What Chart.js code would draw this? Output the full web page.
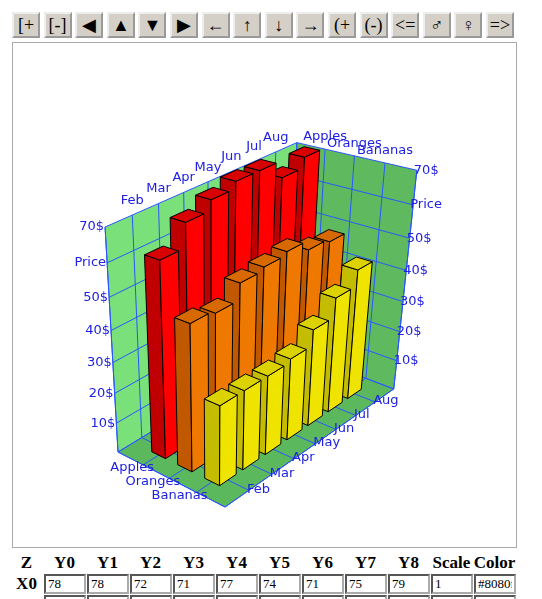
<!DOCTYPE html>
<html><head><meta charset="utf-8">
<script src="https://cdn.jsdelivr.net/npm/chart.js@4"></script>
<style>
body{margin:0;background:#fff;font-family:"Liberation Serif",serif;}
#bar{position:absolute;left:12px;top:12px;height:26px;}
#bar button{position:absolute;top:0;width:28px;height:26px;padding:0;background:#d4d0c8;border:2px outset #eee;font:18px "Liberation Serif",serif;color:#000;}
#frame{position:absolute;left:12px;top:42px;width:503px;height:504px;border:1px solid #aaa;}
#wrap{position:absolute;left:0;top:0;width:503px;height:504px;}
table{position:absolute;left:10px;top:552px;border-collapse:collapse;font:bold 17px "Liberation Serif",serif;}
td,th{padding:0;text-align:center;height:21px;}
th.z{width:33px;}
td input{box-sizing:border-box;width:42px;height:20px;margin:0 0 0 1px;border:2px inset #aaa;font:13px "Liberation Serif",serif;padding:0 2px;}
</style></head><body>
<div id="bar"></div>
<div id="frame"><div id="wrap"><canvas id="c"></canvas></div></div>
<table id="tb"></table>
<script>
const months=["Feb","Mar","Apr","May","Jun","Jul","Aug"];
const series=["Apples","Oranges","Bananas"];
const apples=[62,69,72,74,74,69,72];
const oranges=[47,46,51,52,53,50,49];
const bananas=[26,26,26,27,32,38,43];
const ticks=[10,20,30,40,50,60,70];
const tickLabels=["10$","20$","30$","40$","50$","Price","70$"];
const buttons=["[+","[-]","◀","▲","▼","▶","←","↑","↓","→","(+","(-)","<=","♂","♀","=>"];
const headers=["Z","Y0","Y1","Y2","Y3","Y4","Y5","Y6","Y7","Y8","Scale","Color"];
const row0=["78","78","72","71","77","74","71","75","79","1","#8080f"];

const bar=document.getElementById('bar');
buttons.forEach((b,i)=>{const e=document.createElement('button');e.textContent=b;e.style.left=(i*31.6)+'px';bar.appendChild(e);});
const tb=document.getElementById('tb');
tb.innerHTML='<tr>'+headers.map((h,i)=>'<th'+(i?'':' class="z"')+'>'+h+'</th>').join('')+'</tr>'+
 '<tr><th>X0</th>'+row0.map(v=>'<td><input value="'+v+'"></td>').join('')+'</tr>'+
 '<tr><th></th>'+row0.map(v=>'<td><input></td>').join('')+'</tr>';

const allSeries=[apples,oranges,bananas];
const colors=[
 {l:'#c00000',r:'#ff0000',t:'#d80000'},
 {l:'#c05800',r:'#ee7800',t:'#d86800'},
 {l:'#c4bc00',r:'#eee400',t:'#dcd200'}];
// projective camera
const O=[118,452],VM=[1505,-389],VS=[-1118,-183],VZ=[213,2102];
const KM=0.01996,KS=-0.02657,KZ=-0.001714;
function P(m,s,z){const a=KM*m,b=KS*s,c=KZ*z,w=1+a+b+c;
 return [(O[0]+a*VM[0]+b*VS[0]+c*VZ[0])/w,(O[1]+a*VM[1]+b*VS[1]+c*VZ[1])/w];}
const ML=7,SL=3,ZT=70,MSTEP=ML/8,SSTEP=SL/4;

const plug={id:'bars3d',afterDraw(ch){
 const ctx=ch.ctx,xs=ch.scales.x,ys=ch.scales.y;
 const px=(m,s,z)=>{const p=P(m,s,z);return [xs.getPixelForValue(p[0]),ys.getPixelForValue(p[1])];};
 const poly=(pts,fill,stroke)=>{ctx.beginPath();pts.forEach((q,i)=>{const p=px(...q);i?ctx.lineTo(p[0],p[1]):ctx.moveTo(p[0],p[1]);});ctx.closePath();if(fill){ctx.fillStyle=fill;ctx.fill();}if(stroke){ctx.strokeStyle=stroke;ctx.lineWidth=1;ctx.stroke();}};
 const line=(a,b)=>{const p=px(...a),q=px(...b);ctx.beginPath();ctx.moveTo(p[0],p[1]);ctx.lineTo(q[0],q[1]);ctx.stroke();};
 ctx.save();
 poly([[0,0,0],[ML,0,0],[ML,0,ZT],[0,0,ZT]],'#7ae07a');
 poly([[ML,0,0],[ML,SL,0],[ML,SL,ZT],[ML,0,ZT]],'#5fba5f');
 poly([[0,0,0],[ML,0,0],[ML,SL,0],[0,SL,0]],'#5cb85c');
 ctx.strokeStyle='#2a55ff';ctx.lineWidth=1;
 for(let k=0;k<=8;k++){line([k*MSTEP,0,0],[k*MSTEP,0,ZT]);line([k*MSTEP,0,0],[k*MSTEP,SL,0]);}
 for(let j=0;j<=4;j++){line([ML,j*SSTEP,0],[ML,j*SSTEP,ZT]);line([0,j*SSTEP,0],[ML,j*SSTEP,0]);}
 [0].concat(ticks).forEach(t=>{line([0,0,t],[ML,0,t]);line([ML,0,t],[ML,SL,t]);});
 line([0,0,0],[0,SL,0]);line([0,SL,0],[ML,SL,0]);line([ML,SL,0],[ML,SL,ZT]);line([0,0,0],[0,0,ZT]);
 const hw=0.31,hd=0.2;
 for(let j=0;j<3;j++){for(let k=6;k>=0;k--){
  const v=allSeries[j][k],mc=(k+1)*MSTEP,sc=(j+1)*SSTEP,c=colors[j];
  const x0=mc-hw,x1=mc+hw,y0=sc-hd,y1=sc+hd;
  poly([[x0,y0,0],[x0,y1,0],[x0,y1,v],[x0,y0,v]],c.l,'#000');
  poly([[x0,y1,0],[x1,y1,0],[x1,y1,v],[x0,y1,v]],c.r,'#000');
  poly([[x0,y0,v],[x1,y0,v],[x1,y1,v],[x0,y1,v]],c.t,'#000');
 }}
 ctx.fillStyle='#2020e0';ctx.font='13px "DejaVu Sans",Verdana,sans-serif';
 const txt=(t,q,al,bl,dx,dy)=>{const p=px(...q);ctx.textAlign=al;ctx.textBaseline=bl;ctx.fillText(t,p[0]+dx,p[1]+dy);};
 months.forEach((t,k)=>{txt(t,[(k+1)*MSTEP,0,ZT],'center','bottom',0,-8);txt(t,[(k+1)*MSTEP,SL,0],'left','middle',-2,-1);});
 series.forEach((t,j)=>{txt(t,[ML,(j+1)*SSTEP,ZT],'center','bottom',0,-6);txt(t,[0,(j+1)*SSTEP,0],'right','middle',11,3);});
 ticks.forEach((t,i)=>{txt(tickLabels[i],[0,0,t],'right','middle',-1,0);txt(tickLabels[i],[ML,SL,t],'left','middle',-3,0);});
 ctx.restore();
}};
new Chart(document.getElementById('c'),{type:'scatter',
 data:{datasets:allSeries.map((d,j)=>({label:series[j],data:d.map((v,k)=>({x:k,y:v})),pointRadius:0,showLine:false}))},
 options:{responsive:true,maintainAspectRatio:false,animation:false,events:[],
  layout:{padding:0},plugins:{legend:{display:false},tooltip:{enabled:false}},
  scales:{x:{type:'linear',min:13,max:516,display:false},y:{type:'linear',min:43,max:547,reverse:true,display:false}}},
 plugins:[plug]});
</script></body></html>
